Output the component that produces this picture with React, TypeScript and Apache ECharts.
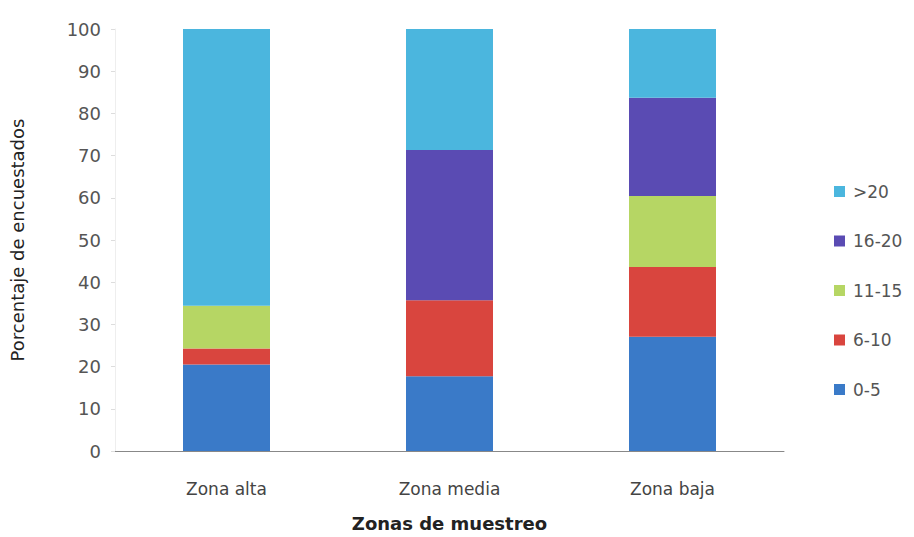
import React, { useEffect, useRef } from "react";
import * as echarts from "echarts";

const categories = ["Zona alta", "Zona media", "Zona baja"];
const seriesNames = ["0-5", "6-10", "11-15", "16-20", ">20"];
const s0_5 = [20.5, 17.7, 27.1];
const s6_10 = [3.8, 18.0, 16.5];
const s11_15 = [10.1, 0, 16.8];
const s16_20 = [0, 35.6, 23.3];
const sOver20 = [65.6, 28.7, 16.3];
const seriesColors = ["#3a7ac8", "#d9453e", "#b6d664", "#5a4bb3", "#4bb6de"];
const yTicks = { min: 0, max: 100, interval: 10 };

export default function App() {
  const ref = useRef<HTMLDivElement>(null);
  useEffect(() => {
    if (!ref.current) return;
    const chart = echarts.init(ref.current, null, { renderer: "svg" });
    const values = [s0_5, s6_10, s11_15, s16_20, sOver20];
    const font = "'DejaVu Sans', 'Noto Sans', sans-serif";
    chart.setOption({
      animation: false,
      backgroundColor: "#ffffff",
      textStyle: { fontFamily: font },
      grid: { left: 111, right: 130, top: 29, bottom: 84, containLabel: false },
      legend: {
        orient: "vertical",
        left: 829,
        top: 178,
        itemWidth: 11,
        itemHeight: 11,
        itemGap: 32.5,
        icon: "rect",
        data: [...seriesNames].reverse(),
        textStyle: { color: "#555", fontSize: 17, fontFamily: font, padding: [0, 0, 0, 3] },
      },
      xAxis: {
        type: "category",
        data: categories,
        name: "Zonas de muestreo",
        nameLocation: "middle",
        nameGap: 63,
        nameTextStyle: { color: "#222", fontSize: 18, fontWeight: "bold", fontFamily: font },
        axisLine: { lineStyle: { color: "#888" } },
        axisTick: { show: false },
        axisLabel: { color: "#444", fontSize: 17, margin: 29, fontFamily: font },
      },
      yAxis: {
        type: "value",
        min: yTicks.min,
        max: yTicks.max,
        interval: yTicks.interval,
        name: "Porcentaje de encuestados",
        nameLocation: "middle",
        nameGap: 89,
        nameTextStyle: { color: "#222", fontSize: 18, fontFamily: font },
        axisLine: { show: true, lineStyle: { color: "#eee" } },
        axisTick: { show: true, length: 4, lineStyle: { color: "#ddd" } },
        axisLabel: { color: "#555", fontSize: 18, margin: 14, fontFamily: font },
        splitLine: { show: false },
      },
      series: seriesNames.map((name, i) => ({
        name,
        type: "bar",
        stack: "total",
        data: values[i],
        barWidth: 87,
        itemStyle: { color: seriesColors[i] },
      })),
    });
    return () => chart.dispose();
  }, []);
  return (
    <div
      ref={ref}
      style={{ position: "absolute", left: 0, top: 0, width: 914, height: 537 }}
    />
  );
}
